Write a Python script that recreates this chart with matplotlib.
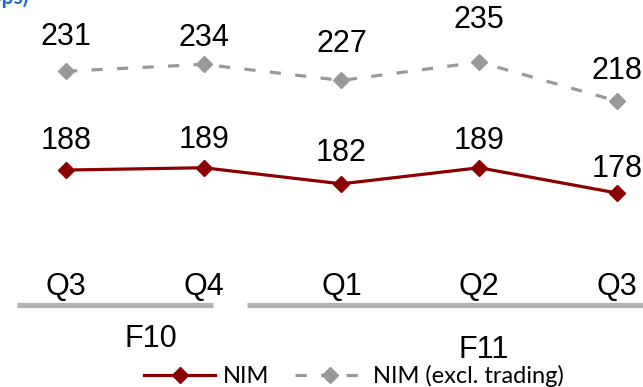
import matplotlib
matplotlib.use("Agg")
import matplotlib.pyplot as plt
from matplotlib.lines import Line2D

# Quarterly net interest margin, basis points
quarters = ["Q3", "Q4", "Q1", "Q2", "Q3"]
years = ["F10", "F11"]
nim = [188, 189, 182, 189, 178]
nim_excl_trading = [231, 234, 227, 235, 218]

RED = "#8b0000"
GRAY = "#999999"
BAR = "#b3b3b3"
FONT = "Liberation Sans"
FS = 22

W, H = 643, 387
fig = plt.figure(figsize=(W / 100, H / 100), dpi=100)
ax = fig.add_axes([0, 0, 1, 1])
ax.set_xlim(-0.479, 4.189)
ax.set_ylim(93.58, 262.0)
ax.axis("off")

x = list(range(len(quarters)))

ax.plot(x, nim, color=RED, lw=2.3, marker="D", ms=8, mfc=RED, mec=RED,
        solid_joinstyle="round")
ax.plot(x, nim_excl_trading, color=GRAY, lw=2.3, ls=(0, (3.5, 4.5)),
        marker="D", ms=8, mfc=GRAY, mec=GRAY)

# value labels above each point (offsets in points)
nim_off = [21, 20, 22, 19, 17]
excl_off = [25, 19, 26, 30, 22]
for xi, v, o in zip(x, nim, nim_off):
    ax.annotate(f"{v}", (xi, v), xytext=(0, o), textcoords="offset points",
                ha="center", va="center", fontsize=FS, family=FONT)
for xi, v, o in zip(x, nim_excl_trading, excl_off):
    ax.annotate(f"{v}", (xi, v), xytext=(0, o), textcoords="offset points",
                ha="center", va="center", fontsize=FS, family=FONT)

def fx(px):
    return px / W

def fy(py):
    return 1 - py / H

# quarter labels
for xi, q in zip(x, quarters):
    fig.text(ax.transData.transform((xi, 0))[0] / W, fy(287), q,
             ha="center", va="center", fontsize=FS, family=FONT)

# fiscal-year group bars and labels
fig.add_artist(Line2D([fx(17), fx(213)], [fy(305), fy(305)], color=BAR, lw=3.8,
                      solid_capstyle="butt"))
fig.add_artist(Line2D([fx(247), fx(643)], [fy(305), fy(305)], color=BAR, lw=3.8,
                      solid_capstyle="butt"))
fig.text(fx(151), fy(339), years[0], ha="center", va="center", fontsize=FS, family=FONT)
fig.text(fx(484), fy(350), years[1], ha="center", va="center", fontsize=FS, family=FONT)

# unit caption at the top edge
fig.text(fx(28), fy(4), "NIM (bps)", ha="right", va="baseline", fontsize=15,
         color="#1f6fc8", fontweight="bold", family="Lato")

handles = [
    Line2D([], [], color=RED, lw=2.3, marker="D", ms=8, mfc=RED, mec=RED),
    Line2D([], [], color=GRAY, lw=2.3, ls=(0, (3.5, 4.5)), marker="D", ms=8,
           mfc=GRAY, mec=GRAY),
]
fig.legend(handles, ["NIM", "NIM (excl. trading)"], loc="center",
           bbox_to_anchor=(fx(354), fy(376)), ncol=2, frameon=False,
           prop={"family": "Lato", "size": 17}, handlelength=3.0,
           handletextpad=0.3, columnspacing=1.1, borderpad=0)

fig.savefig("out.png", dpi=100)
